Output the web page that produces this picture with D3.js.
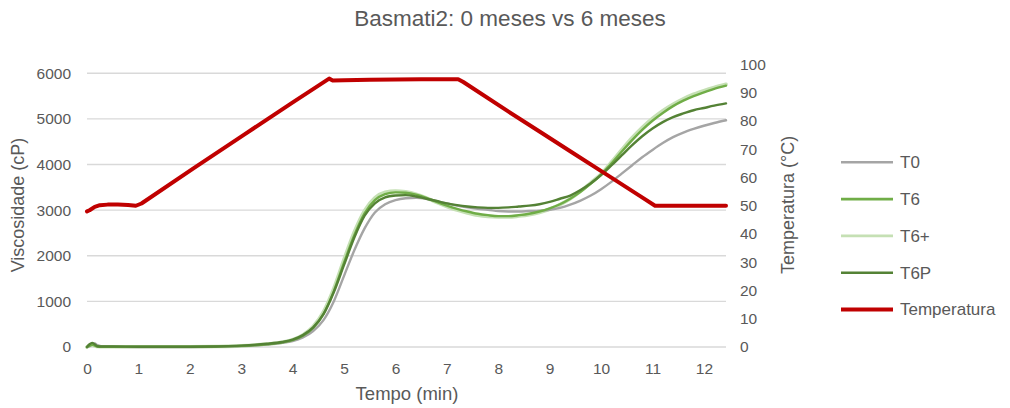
<!DOCTYPE html>
<html>
<head>
<meta charset="utf-8">
<script src="https://cdn.jsdelivr.net/npm/d3@7"></script>
<style>
  html, body { margin: 0; padding: 0; background: #ffffff; }
  svg { display: block; font-family: "Liberation Sans", Arial, sans-serif; }
</style>
</head>
<body>
<svg id="chart" width="1010" height="408"></svg>
<script>
// Time axis (min) shared by the viscosity series
const tempo = [0, 0.05, 0.1, 0.15, 0.2, 0.3, 0.5, 1, 1.5, 2, 2.5, 3, 3.5, 3.8, 4.0, 4.2, 4.4, 4.6, 4.8,
  5.0, 5.2, 5.4, 5.6, 5.8, 6.0, 6.2, 6.4, 6.6, 6.8, 7.0, 7.2, 7.4, 7.6, 7.8, 8.0, 8.2, 8.4, 8.6, 8.8,
  9.0, 9.2, 9.4, 9.6, 9.8, 10.0, 10.2, 10.4, 10.6, 10.8, 11.0, 11.2, 11.4, 11.6, 11.8, 12.0, 12.2, 12.43];

// Viscosity (cP)
const t0 = [0, 20, 60, 80, 40, 10, 5, 0, 0, 0, 5, 20, 55, 90, 130, 210, 350, 590, 1000,
  1560, 2120, 2600, 2950, 3130, 3220, 3260, 3270, 3250, 3200, 3150, 3100, 3060, 3030, 3010, 2980, 2970, 2970, 2980, 2990,
  3010, 3050, 3120, 3210, 3320, 3460, 3620, 3800, 3980, 4160, 4320, 4470, 4600, 4700, 4780, 4850, 4910, 4970];
const t6 = [0, 30, 50, 30, 10, 5, 5, 5, 5, 5, 10, 25, 60, 100, 150, 250, 420, 720, 1220,
  1850, 2450, 2930, 3220, 3350, 3390, 3380, 3340, 3270, 3180, 3100, 3030, 2970, 2920, 2890, 2870, 2870, 2890, 2920, 2970,
  3040, 3130, 3250, 3400, 3580, 3780, 4020, 4280, 4530, 4760, 4960, 5130, 5280, 5400, 5500, 5580, 5660, 5730];
const t6mais = [0, 30, 50, 30, 10, 5, 5, 5, 5, 5, 10, 25, 65, 105, 160, 265, 450, 770, 1280,
  1920, 2520, 2990, 3270, 3390, 3420, 3400, 3350, 3270, 3170, 3080, 3000, 2940, 2890, 2860, 2850, 2850, 2870, 2900, 2950,
  3020, 3120, 3250, 3410, 3600, 3790, 4050, 4320, 4580, 4810, 5010, 5180, 5320, 5440, 5540, 5620, 5690, 5760];
const t6p = [0, 60, 90, 60, 15, 10, 10, 5, 5, 5, 10, 30, 70, 110, 160, 260, 430, 720, 1200,
  1800, 2400, 2880, 3150, 3280, 3320, 3330, 3300, 3250, 3200, 3150, 3110, 3080, 3060, 3050, 3050, 3060, 3080, 3100, 3130,
  3180, 3250, 3320, 3440, 3590, 3770, 3980, 4200, 4420, 4620, 4790, 4930, 5040, 5120, 5190, 5240, 5290, 5340];

// Temperature profile (°C) with its own time samples
const tempoTemp = [0, 0.05, 0.15, 0.25, 0.4, 0.6, 0.8, 0.95, 1.06, 2.07, 3.05, 4.01, 4.71,
  4.78, 5.0, 5.5, 6.0, 6.5, 7.0, 7.22, 7.32, 8.2, 8.81, 9.46, 10.11, 10.76, 11.05, 11.5, 12.0, 12.43];
const temperatura = [48.0, 48.4, 49.6, 50.2, 50.4, 50.4, 50.3, 50.0, 50.8, 63.2, 75.1, 86.7, 95.0,
  94.3, 94.4, 94.6, 94.7, 94.8, 94.8, 94.8, 93.8, 83.3, 76.2, 68.6, 61.0, 53.4, 50.0, 50.0, 50.0, 50.0];

const xTicks = d3.range(0, 13);
const yTicksVisc = d3.range(0, 7000, 1000);
const yTicksTemp = d3.range(0, 110, 10);

const series = [
  { name: "T0", values: t0, color: "#A5A5A5", width: 2.4 },
  { name: "T6", values: t6, color: "#70AD47", width: 2.4 },
  { name: "T6+", values: t6mais, color: "#C5E0B4", width: 3.6 },
  { name: "T6P", values: t6p, color: "#548235", width: 2.4 }
];
const drawOrder = [series[2], series[0], series[1], series[3]];

const svg = d3.select("#chart");
const textColor = "#595959";

const x = d3.scaleLinear().domain([0, 12.43]).range([87, 726]);
const yV = d3.scaleLinear().domain([0, 6000]).range([347, 73.3]);
const yT = d3.scaleLinear().domain([0, 100]).range([347, 64.5]);

// horizontal gridlines from the viscosity axis
svg.append("g")
  .selectAll("line")
  .data(yTicksVisc)
  .join("line")
  .attr("x1", x(0)).attr("x2", x(12.43))
  .attr("y1", d => yV(d)).attr("y2", d => yV(d))
  .attr("stroke", "#D9D9D9").attr("stroke-width", 1.4);

// axes
const axisStyle = g => {
  g.select(".domain").remove();
  g.selectAll(".tick line").remove();
  g.selectAll("text").attr("fill", textColor).style("font-size", "15.5px")
    .style("font-family", "'Liberation Sans', Arial, sans-serif");
};

svg.append("g")
  .attr("transform", "translate(0,357)")
  .call(d3.axisBottom(x).tickValues(xTicks).tickFormat(d3.format("d")).tickSize(0).tickPadding(6))
  .call(axisStyle);

svg.append("g")
  .attr("transform", "translate(80,0)")
  .call(d3.axisLeft(yV).tickValues(yTicksVisc).tickFormat(d3.format("d")).tickSize(0).tickPadding(9))
  .call(axisStyle);

svg.append("g")
  .attr("transform", "translate(732,0)")
  .call(d3.axisRight(yT).tickValues(yTicksTemp).tickFormat(d3.format("d")).tickSize(0).tickPadding(8))
  .call(axisStyle);

// viscosity curves
const lineV = d3.line()
  .x((d, i) => x(tempo[i]))
  .y(d => yV(d))
  .curve(d3.curveMonotoneX);

svg.append("g")
  .selectAll("path")
  .data(drawOrder)
  .join("path")
  .attr("d", s => lineV(s.values))
  .attr("fill", "none")
  .attr("stroke", s => s.color)
  .attr("stroke-width", s => s.width)
  .attr("stroke-linejoin", "round")
  .attr("stroke-linecap", "round");

// temperature curve
const lineT = d3.line()
  .x((d, i) => x(tempoTemp[i]))
  .y(d => yT(d))
  .curve(d3.curveLinear);

svg.append("path")
  .attr("d", lineT(temperatura))
  .attr("fill", "none")
  .attr("stroke", "#C00000")
  .attr("stroke-width", 4)
  .attr("stroke-linejoin", "round")
  .attr("stroke-linecap", "round");

// titles
svg.append("text")
  .attr("x", 510).attr("y", 26)
  .attr("text-anchor", "middle")
  .attr("fill", textColor)
  .style("font-size", "22.5px")
  .text("Basmati2: 0 meses vs 6 meses");

svg.append("text")
  .attr("x", 407).attr("y", 400)
  .attr("text-anchor", "middle")
  .attr("fill", textColor)
  .style("font-size", "18.5px")
  .text("Tempo (min)");

svg.append("text")
  .attr("transform", "translate(24,205) rotate(-90)")
  .attr("text-anchor", "middle")
  .attr("fill", textColor)
  .style("font-size", "18px")
  .text("Viscosidade (cP)");

svg.append("text")
  .attr("transform", "translate(794,205) rotate(-90)")
  .attr("text-anchor", "middle")
  .attr("fill", textColor)
  .style("font-size", "18px")
  .text("Temperatura (°C)");

// legend
const legendItems = series.concat([{ name: "Temperatura", color: "#C00000", width: 4 }]);
const legend = svg.append("g");
const leg = legend.selectAll("g")
  .data(legendItems)
  .join("g")
  .attr("transform", (d, i) => `translate(0,${162.3 + i * 36.8})`);
leg.append("line")
  .attr("x1", 841).attr("x2", 893)
  .attr("y1", 0).attr("y2", 0)
  .attr("stroke", d => d.color)
  .attr("stroke-width", d => d.name === "Temperatura" ? 4 : 2.6);
leg.append("text")
  .attr("x", 900).attr("y", 0)
  .attr("dy", "0.35em")
  .attr("fill", textColor)
  .style("font-size", "17px")
  .text(d => d.name);
</script>
</body>
</html>
